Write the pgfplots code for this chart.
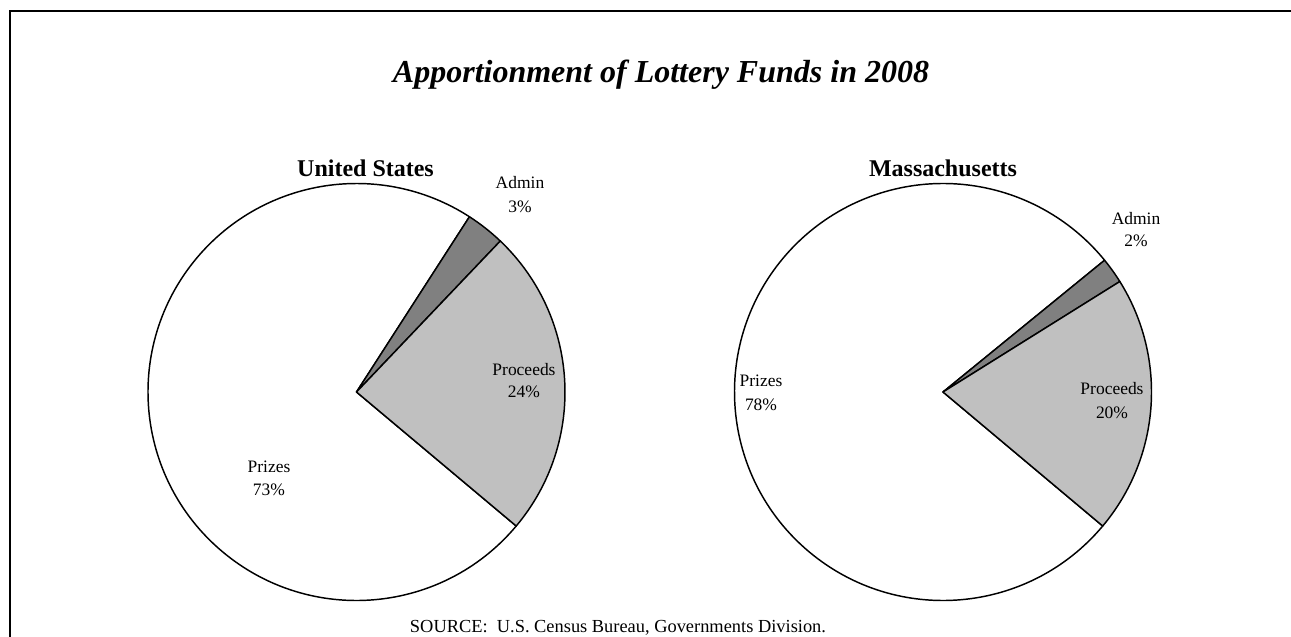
\documentclass[border=0pt]{standalone}
\usepackage{pgfplots}
\usepackage{pgfplotstable}
\pgfplotsset{compat=1.18}
\usepackage{fontspec}
\setmainfont{Liberation Serif}

\definecolor{admingray}{HTML}{808080}
\definecolor{proceedsgray}{HTML}{C0C0C0}

% Share of lottery funds by use, in percent
\pgfplotstableread{
fund      us   ma
Prizes    73   78
Admin      3    2
Proceeds  24   20
}\lotteryshares

% one wedge: centre x, centre y, start angle, end angle, fill
\newcommand{\pieslice}[5]{%
  \filldraw[fill=#5, draw=black, line width=1.1pt, line join=round]
    (axis cs:#1,#2) -- ++(#3:\pieR)
    arc[start angle=#3, end angle=#4, radius=\pieR] -- cycle;}

\newcommand{\sliceLabel}[5]{%
  \node[anchor=base, font=\fontsize{13.1}{15}\selectfont] at (axis cs:#1,#2) {#4};
  \node[anchor=base, font=\fontsize{13.1}{15}\selectfont] at (axis cs:#1,#3) {#5\%};}

\begin{document}
\begin{tikzpicture}
\useasboundingbox (0,0) rectangle (968.25pt,477pt);

\pgfplotstablegetelem{0}{us}\of\lotteryshares \let\usPrizes\pgfplotsretval
\pgfplotstablegetelem{1}{us}\of\lotteryshares \let\usAdmin\pgfplotsretval
\pgfplotstablegetelem{2}{us}\of\lotteryshares \let\usProceeds\pgfplotsretval
\pgfplotstablegetelem{0}{ma}\of\lotteryshares \let\maPrizes\pgfplotsretval
\pgfplotstablegetelem{1}{ma}\of\lotteryshares \let\maAdmin\pgfplotsretval
\pgfplotstablegetelem{2}{ma}\of\lotteryshares \let\maProceeds\pgfplotsretval

% slices run clockwise from the first-slice angle
\def\pieR{156.375pt}
\pgfmathsetmacro\usA{-40}
\pgfmathsetmacro\usB{\usA-3.6*\usPrizes}
\pgfmathsetmacro\usC{\usB-3.6*\usAdmin}
\pgfmathsetmacro\usD{\usC-3.6*\usProceeds}
\pgfmathsetmacro\maA{-40}
\pgfmathsetmacro\maB{\maA-3.6*\maPrizes}
\pgfmathsetmacro\maC{\maB-3.6*\maAdmin}
\pgfmathsetmacro\maD{\maC-3.6*\maProceeds}

\begin{axis}[
  at={(0,0)}, anchor=south west,
  scale only axis, width=968.25pt, height=477pt,
  xmin=0, xmax=1291, ymin=0, ymax=636,
  hide axis, clip=false]

% outer frame
\draw[line width=1.5pt] (axis cs:10,-30) rectangle (axis cs:1320,625);

% title and pie headings
\node[anchor=base, font=\fontsize{24}{28}\selectfont\bfseries\itshape]
  at (axis cs:661,553) {Apportionment of Lottery Funds in 2008};
\node[anchor=base, font=\fontsize{18}{21}\selectfont\bfseries]
  at (axis cs:365.5,459) {United States};
\node[anchor=base, font=\fontsize{18}{21}\selectfont\bfseries]
  at (axis cs:943,459) {Massachusetts};

% United States
\pieslice{356.5}{244}{\usA}{\usB}{white}
\pieslice{356.5}{244}{\usB}{\usC}{admingray}
\pieslice{356.5}{244}{\usC}{\usD}{proceedsgray}
\sliceLabel{269}{164}{141}{Prizes}{\usPrizes}
\sliceLabel{520}{447}{423}{Admin}{\usAdmin}
\sliceLabel{524}{261}{239}{Proceeds}{\usProceeds}

% Massachusetts
\pieslice{943}{244}{\maA}{\maB}{white}
\pieslice{943}{244}{\maB}{\maC}{admingray}
\pieslice{943}{244}{\maC}{\maD}{proceedsgray}
\sliceLabel{761}{250}{226}{Prizes}{\maPrizes}
\sliceLabel{1136}{411}{389}{Admin}{\maAdmin}
\sliceLabel{1112}{242}{218}{Proceeds}{\maProceeds}

% source note
\node[anchor=base, font=\fontsize{13.8}{16}\selectfont]
  at (axis cs:618,4) {SOURCE:\ \ U.S. Census Bureau, Governments Division.};
\end{axis}
\end{tikzpicture}
\end{document}
